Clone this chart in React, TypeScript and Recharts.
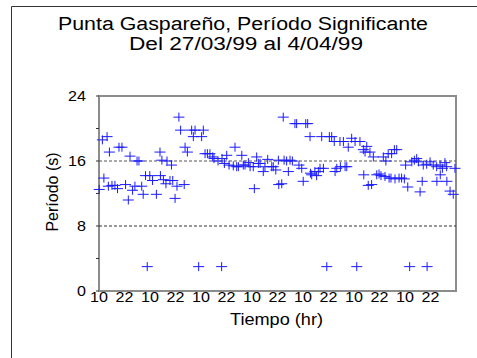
import {
  ScatterChart,
  Scatter,
  XAxis,
  YAxis,
  ReferenceLine,
  ReferenceArea,
} from "recharts";

// hours since 10:00 on 27/03/99
const HOURS = [
  0.1, 1.6, 2.3, 3.8, 4.4, 4.9, 6.1, 7.5, 8.7, 9.4,
  10.8, 12.5, 13.8, 14.6, 15.8, 16.9, 17.9, 18.8, 20.1, 20.8,
  21.9, 22.7, 23.9, 25.2, 27.0, 28.7, 28.9, 29.6, 30.3, 31.5,
  32.0, 33.4, 34.1, 34.7, 35.8, 36.7, 37.6, 38.4, 40.1, 40.5,
  41.6, 43.6, 44.4, 45.2, 46.9, 48.3, 49.1, 49.9, 51.0, 52.2,
  53.5, 54.1, 56.0, 57.7, 57.9, 59.0, 60.1, 61.2, 63.2, 64.0,
  64.8, 65.6, 67.2, 67.9, 68.7, 70.3, 71.1, 72.6, 73.1, 74.2,
  75.0, 75.8, 77.3, 78.1, 79.4, 81.3, 82.0, 83.2, 84.4, 84.6,
  86.0, 86.7, 87.1, 88.3, 89.1, 89.9, 91.0, 92.2, 93.0, 94.1,
  95.4, 96.1, 97.3, 98.2, 99.3, 99.5, 100.1, 101.6, 102.4, 103.2,
  104.0, 104.8, 105.6, 107.2, 108.4, 109.5, 110.7, 111.1, 111.9, 113.4,
  113.6, 115.0, 115.8, 116.6, 117.3, 118.9, 120.5, 121.3, 122.8, 124.4,
  124.6, 125.2, 126.0, 126.7, 127.5, 128.3, 129.1, 130.7, 131.8, 132.7,
  133.8, 134.6, 135.0, 136.1, 136.5, 137.4, 137.7, 139.0, 139.3, 140.1,
  141.2, 142.4, 143.7, 144.3, 145.3, 146.2, 147.2, 148.4, 149.5, 150.3,
  151.1, 152.1, 152.6, 154.2, 154.4, 155.8, 157.3, 158.9, 159.0, 160.5,
  160.6, 161.6, 162.8, 163.6, 163.7, 165.2, 166.7, 167.5,
];

// significant period (s)
const PERIODS = [
  12.5, 18.6, 13.9, 19.0, 12.9, 17.1, 13.0, 13.0, 12.6, 17.7,
  17.7, 13.1, 11.2, 16.6, 12.4, 12.9, 16.0, 16.0, 12.9, 11.9,
  14.2, 3.0, 14.2, 13.6, 11.9, 17.1, 14.2, 16.1, 13.7, 13.2,
  16.0, 13.6, 15.5, 13.6, 11.4, 12.9, 21.4, 19.8, 13.1, 17.7,
  17.1, 19.8, 19.0, 19.8, 3.0, 19.0, 19.8, 16.9, 16.9, 16.9,
  16.5, 16.3, 16.0, 3.0, 16.3, 15.7, 16.7, 15.5, 15.4, 17.7,
  15.3, 15.3, 16.7, 15.5, 15.5, 15.8, 15.3, 15.3, 12.6, 16.5,
  15.7, 15.7, 14.7, 15.3, 16.2, 15.3, 15.3, 14.9, 16.1, 13.1,
  13.2, 21.4, 16.1, 16.0, 14.7, 16.1, 16.0, 20.6, 20.6, 15.5,
  15.1, 13.5, 20.6, 20.6, 19.0, 14.5, 14.3, 14.7, 14.2, 14.7,
  15.1, 19.0, 15.1, 3.0, 19.0, 19.0, 18.4, 14.7, 15.1, 18.4,
  15.3, 18.4, 15.3, 15.3, 17.7, 18.8, 18.4, 3.0, 18.4, 17.4,
  14.3, 17.1, 17.8, 13.0, 17.1, 13.1, 16.5, 14.3, 14.4, 14.2,
  16.5, 14.1, 16.0, 16.9, 13.9, 13.9, 16.9, 17.4, 13.8, 17.4,
  13.9, 13.9, 13.8, 15.5, 12.8, 3.0, 15.9, 16.1, 16.3, 15.9,
  12.2, 13.5, 15.5, 15.6, 3.0, 15.9, 15.5, 15.3, 13.5, 15.5,
  14.3, 15.1, 15.8, 15.3, 13.5, 12.3, 11.9, 15.1,
];

const X_TICKS = [0, 12, 24, 36, 48, 60, 72, 84, 96, 108, 120, 132, 144, 156];
const X_TICK_LABELS = ["10", "22", "10", "22", "10", "22", "10", "22", "10", "22", "10", "22", "10", "22"];
const Y_TICKS = [0, 4, 8, 12, 16, 20, 24];
const Y_LABELED = [0, 8, 16, 24];

const points = HOURS.map((h, i) => ({ h, p: PERIODS[i] }));

const FONT = '"Liberation Sans", Arial, sans-serif';

function XTick({ x, y, payload }: any) {
  const label = X_TICK_LABELS[X_TICKS.indexOf(payload.value)] ?? "";
  return (
    <text
      transform={`translate(${x},${y + 11}) scale(1.15,1)`}
      textAnchor="middle"
      fontSize={14}
      fontFamily={FONT}
      fill="#000"
    >
      {label}
    </text>
  );
}

function YTick({ x, y, payload }: any) {
  if (!Y_LABELED.includes(payload.value)) return <g />;
  return (
    <text
      transform={`translate(${x},${y + 5}) scale(1.15,1)`}
      textAnchor="end"
      fontSize={14}
      fontFamily={FONT}
      fill="#000"
    >
      {payload.value}
    </text>
  );
}

function Plus({ cx, cy }: any) {
  if (cx == null || cy == null) return <g />;
  return (
    <path
      d={`M${cx - 5.5},${cy}H${cx + 5.5}M${cx},${cy - 4.5}V${cy + 4.5}`}
      stroke="#1a1aff"
      strokeWidth={1}
      fill="none"
    />
  );
}

export default function App() {
  return (
    <div
      style={{
        position: "absolute",
        left: 0,
        top: 0,
        width: 477,
        height: 358,
        overflow: "hidden",
        background: "#fff",
      }}
    >
      <ScatterChart
        width={477}
        height={358}
        margin={{ top: 96, right: 21, bottom: 0, left: 0 }}
      >
        <XAxis
          type="number"
          dataKey="h"
          domain={[0, 168]}
          ticks={X_TICKS}
          interval={0}
          height={67}
          axisLine={false}
          tickLine={false}
          tickSize={0}
          tickMargin={0}
          tick={<XTick />}
        />
        <YAxis
          type="number"
          dataKey="p"
          domain={[0, 24]}
          ticks={Y_TICKS}
          interval={0}
          width={99}
          axisLine={false}
          tickLine={{ stroke: "#333" }}
          tickSize={3}
          tickMargin={10}
          tick={<YTick />}
        />
        <ReferenceArea
          x1={0}
          x2={168}
          y1={0}
          y2={24}
          fill="none"
          fillOpacity={0}
          stroke="#8c8c8c"
          strokeWidth={2}
        />
        <ReferenceLine y={16} stroke="#555" strokeDasharray="3 2" />
        <ReferenceLine y={8} stroke="#333" strokeDasharray="3 2" />
        <Scatter data={points} shape={<Plus />} isAnimationActive={false} />
      </ScatterChart>
      <svg
        width={477}
        height={358}
        style={{ position: "absolute", left: 0, top: 0, pointerEvents: "none" }}
      >
        <path d="M11.5,358V6.5H477" stroke="#333" strokeWidth={1} fill="none" />
        <text x={58} y={29.5} textLength={370} lengthAdjust="spacingAndGlyphs" fontSize={18} fontFamily={FONT} fill="#000">
          Punta Gaspareño, Período Significante
        </text>
        <text x={129} y={49.5} textLength={234} lengthAdjust="spacingAndGlyphs" fontSize={18} fontFamily={FONT} fill="#000">
          Del 27/03/99 al 4/04/99
        </text>
        <text x={230} y={325} textLength={93} lengthAdjust="spacingAndGlyphs" fontSize={16} fontFamily={FONT} fill="#000">
          Tiempo (hr)
        </text>
        <text
          transform="translate(58,192) rotate(-90)"
          textAnchor="middle"
          fontSize={16}
          fontFamily={FONT}
          fill="#000"
        >
          Período (s)
        </text>
      </svg>
    </div>
  );
}
